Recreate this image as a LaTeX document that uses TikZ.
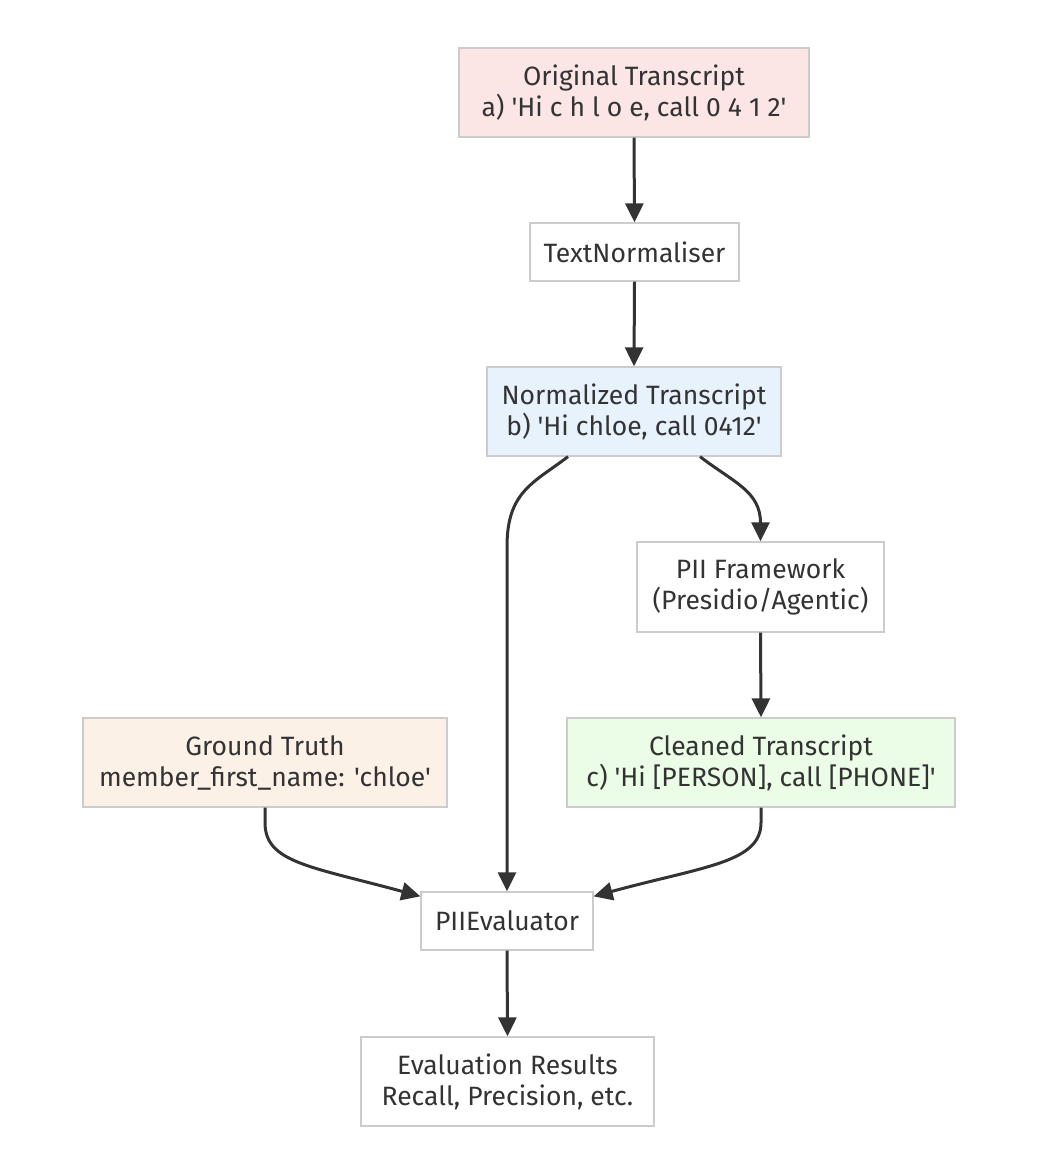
\documentclass[tikz,border=0pt]{standalone}
\usepackage{fontspec}
\setmainfont{Fira Sans}[Ligatures=TeXOff]
\usetikzlibrary{arrows.meta,calc}
\definecolor{txt}{HTML}{333333}
\definecolor{edge}{HTML}{333333}
\definecolor{bord}{HTML}{CCCCCC}
\definecolor{pinkf}{HTML}{FCE5E5}
\definecolor{bluef}{HTML}{E8F2FC}
\definecolor{greenf}{HTML}{EBFCE7}
\definecolor{orangef}{HTML}{FCF1E7}
\tikzset{
  box/.style={draw=bord, line width=1.3pt, fill=white, text=txt, align=center, inner sep=0pt,
    font=\fontsize{26.5}{31}\selectfont},
  flow/.style={draw=edge, line width=3pt, -{Triangle[length=19pt,width=18pt]}},
}
\begin{document}
\begin{tikzpicture}[x=1pt,y=-1pt]
\useasboundingbox (0,0) rectangle (1045,1169);
\node[box, fill=pinkf, minimum width=350pt, minimum height=89pt] (orig) at (634,92.5) {Original Transcript\\a) 'Hi c h l o e, call 0 4 1 2'};
\node[box, minimum width=209pt, minimum height=58pt] (tn) at (634.5,252) {TextNormaliser};
\node[box, fill=bluef, minimum width=294pt, minimum height=89pt] (norm) at (634,411.5) {Normalized Transcript\\b) 'Hi chloe, call 0412'};
\node[box, minimum width=247pt, minimum height=90pt] (pii) at (760.5,587) {PII Framework\\(Presidio/Agentic)};
\node[box, fill=greenf, minimum width=388pt, minimum height=89pt] (clean) at (761,762.5) {Cleaned Transcript\\c) 'Hi [PERSON], call [PHONE]'};
\node[box, fill=orangef, minimum width=364pt, minimum height=89pt] (gt) at (265,762.5) {Ground Truth\\member\_first\_name: 'chloe'};
\node[box, minimum width=172pt, minimum height=58pt] (eval) at (507,921) {PIIEvaluator};
\node[box, minimum width=293pt, minimum height=89pt] (res) at (507.5,1081.5) {Evaluation Results\\Recall, Precision, etc.};

\draw[flow] (orig.south) -- (tn.north);
\draw[flow] (tn.south) -- (norm.north);
\draw[flow] ($(norm.south)+(-66,0)$) .. controls ($(norm.south)+(-100,26)$) and ($(eval.north)+(0,-400)$) .. ($(eval.north)+(0,-345)$) -- (eval.north);
\draw[flow] ($(norm.south)+(66,0)$) .. controls ($(norm.south)+(100,26)$) and ($(pii.north)+(0,-50)$) .. (pii.north);
\draw[flow] (pii.south) -- (clean.north);
\draw[flow] (gt.south) -- ++(0,15) .. controls ($(gt.south)+(0,55)$) and ($(eval.north west)+(-110,-25)$) .. ($(eval.north west)+(0,5)$);
\draw[flow] (clean.south) -- ++(0,15) .. controls ($(clean.south)+(0,55)$) and ($(eval.north east)+(110,-25)$) .. ($(eval.north east)+(0,5)$);
\draw[flow] (eval.south) -- (res.north);
\end{tikzpicture}
\end{document}
